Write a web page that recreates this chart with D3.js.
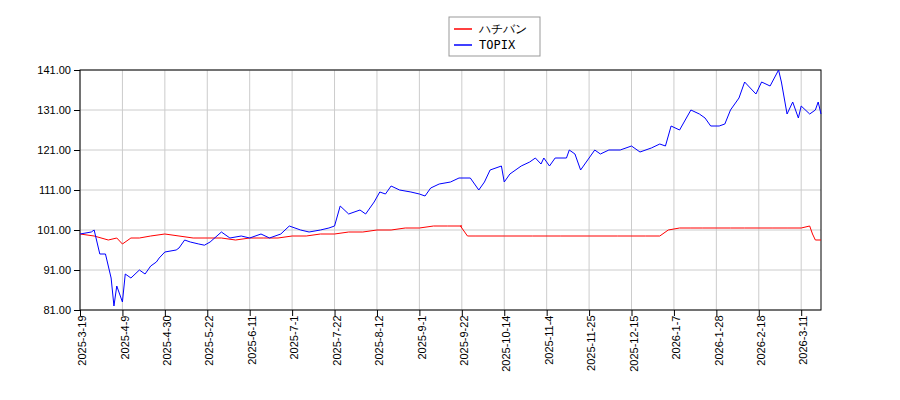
<!DOCTYPE html>
<html><head><meta charset="utf-8">
<script src="https://cdn.jsdelivr.net/npm/d3@7"></script>
<style>body{margin:0;background:#fff}svg{font-family:"DejaVu Sans Mono",monospace}</style>
</head><body><div class="svg"></div>
<script>
// trading-day index -> value
var topixIdx = [0,4,5,7,9,11,12,13,15,16,18,21,23,25,27,28,30,34,35,37,39,42,44,46,50,53,57,60,64,67,71,74,78,81,85,88,90,92,95,99,101,104,106,108,110,113,117,120,122,124,127,131,134,138,140,141,143,145,149,150,152,156,159,161,163,164,166,168,172,173,175,177,179,182,184,187,191,195,198,202,205,207,209,212,216,219,221,223,226,228,230,233,235,239,241,244,247,248,250,252,254,255,258,260,261,262];
var topixVal = [100,100.5,101,95,95,89,82,87,83,90,89,91,90,92,93,94,95.5,96,96.5,98.5,98,97.5,97.2,98,100.5,99,99.5,99,100,99,100,102,101,100.5,101,101.5,102,107,105,106,105,108,110.5,110,112,111,110.5,110,109.5,111.5,112.5,113,114,114,112,111,113,116,117,113,115,117,118,119,117.5,119,117,119,119,121,120,116,118,121,120,121,121,122,120.5,121.5,122.5,122,127,126,131,130,129,127,127,127.5,131,134,138,135,138,137,141,138,130,133,129,132,130,131,133,130];
var hachiIdx = [0,5,10,13,15,18,21,25,30,35,40,45,50,55,60,65,70,75,80,85,90,95,100,105,110,115,120,125,130,135,134.5,137,140,150,160,170,180,190,200,205,208,212,216,220,225,230,235,240,245,250,255,258,259,260,262];
var hachiVal = [100,99.5,98.5,99,97.5,99,99,99.5,100,99.5,99,99,99,98.5,99,99,99,99.5,99.5,100,100,100.5,100.5,101,101,101.5,101.5,102,102,102,102,99.5,99.5,99.5,99.5,99.5,99.5,99.5,99.5,99.5,101,101.5,101.5,101.5,101.5,101.5,101.5,101.5,101.5,101.5,101.5,102,100,98.5,98.5];
var xTickIdx = [0,15,30,45,60,75,90,105,120,135,150,165,180,195,210,225,240,255];
var xTickLabels = ["2025-3-19","2025-4-9","2025-4-30","2025-5-22","2025-6-11","2025-7-1","2025-7-22","2025-8-12","2025-9-1","2025-9-22","2025-10-14","2025-11-4","2025-11-25","2025-12-15","2026-1-7","2026-1-28","2026-2-18","2026-3-11"];
var yTicks = [81,91,101,111,121,131,141];
var seriesNames = ["ハチバン","TOPIX"];
var seriesColors = ["red","blue"];

var W = 900, H = 400, m = {l:80, r:79, t:70, b:90};
var svg = d3.select('body .svg').append('svg').attr('width', W).attr('height', H);
var x = d3.scaleLinear().domain([0,262]).range([m.l, W-m.r]);
var y = d3.scaleLinear().domain([81,141]).range([H-m.b, m.t]);

var g = svg.append('g');
g.selectAll('.gx').data(xTickIdx).enter().append('line')
	.attr('x1', function(d){ return x(d); }).attr('x2', function(d){ return x(d); })
	.attr('y1', m.t).attr('y2', H-m.b).attr('stroke', '#ccc');
g.selectAll('.gy').data(yTicks).enter().append('line')
	.attr('y1', function(d){ return y(d); }).attr('y2', function(d){ return y(d); })
	.attr('x1', m.l).attr('x2', W-m.r).attr('stroke', '#ccc');
g.append('rect').attr('x', m.l).attr('y', m.t).attr('width', W-m.l-m.r).attr('height', H-m.t-m.b)
	.attr('fill', 'none').attr('stroke', '#000');

var yAxis = svg.append('g').attr('transform', 'translate(' + m.l + ',0)')
	.call(d3.axisLeft(y).tickValues(yTicks).tickFormat(d3.format('.2f')).tickSizeOuter(0));
yAxis.select('.domain').remove();
yAxis.selectAll('text').attr('font-size', 11).attr('fill', '#000');

var xAxis = svg.append('g').attr('transform', 'translate(0,' + (H-m.b) + ')')
	.call(d3.axisBottom(x).tickValues(xTickIdx).tickFormat(function(d, i){ return xTickLabels[i]; }).tickSizeOuter(0));
xAxis.select('.domain').remove();
xAxis.selectAll('text').attr('font-size', 11).attr('fill', '#000')
	.attr('transform', 'rotate(-90)').attr('text-anchor', 'end').attr('dx', '-0.5em').attr('dy', '-0.3em');

var line = d3.line().x(function(d){ return x(d[0]); }).y(function(d){ return y(d[1]); });
svg.append('path').datum(d3.zip(hachiIdx, hachiVal)).attr('d', line).attr('fill', 'none').attr('stroke', 'red');
svg.append('path').datum(d3.zip(topixIdx, topixVal)).attr('d', line).attr('fill', 'none').attr('stroke', 'blue');

var lg = svg.append('g').attr('transform', 'translate(449,17)');
lg.append('rect').attr('width', 91).attr('height', 39).attr('fill', '#fff').attr('stroke', '#999');
seriesNames.forEach(function(n, i){
	lg.append('line').attr('x1', 5).attr('x2', 23).attr('y1', 12 + i*16).attr('y2', 12 + i*16)
		.attr('stroke', seriesColors[i]).attr('stroke-width', 1.5);
	lg.append('text').attr('x', 30).attr('y', 16 + i*16).attr('font-size', 12).text(n);
});
</script>
</body></html>
